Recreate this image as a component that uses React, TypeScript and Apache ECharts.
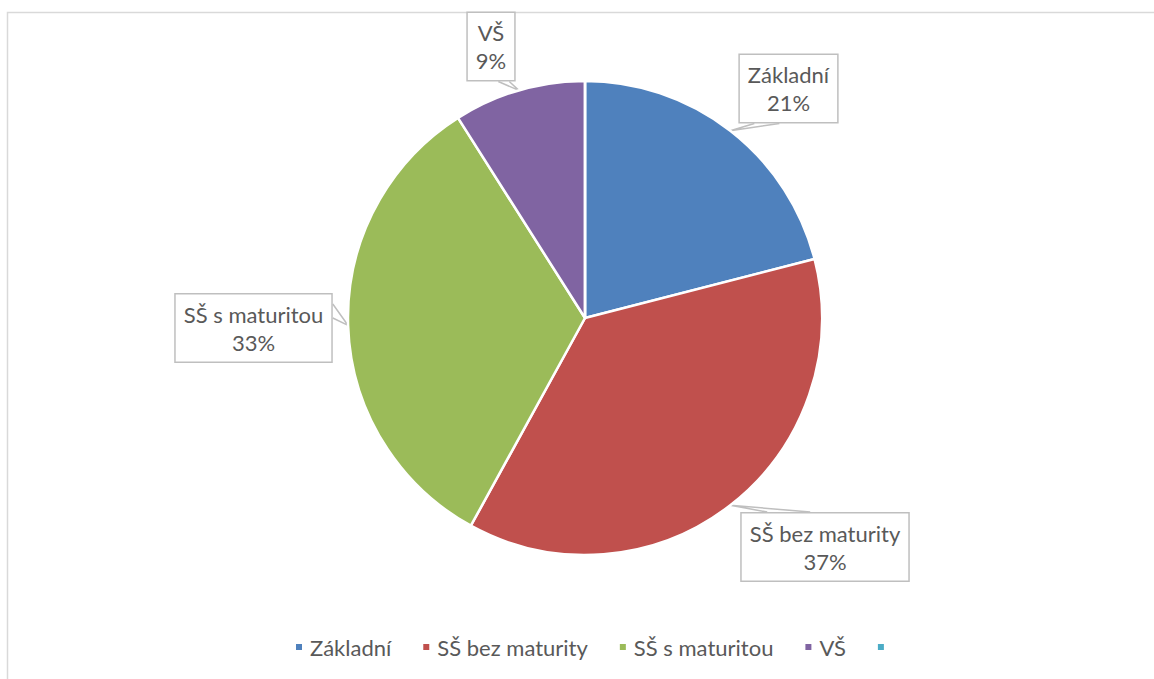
import React, { useEffect, useRef } from "react";
import * as echarts from "echarts";

const categories = ["Základní", "SŠ bez maturity", "SŠ s maturitou", "VŠ", " "];
const values = [21, 37, 33, 9, 0];
const colors = ["#4f81bd", "#c0504d", "#9bbb59", "#8064a2", "#4bacc6"];
// label box centres (layout only)
const labelCenters: [number, number][] = [
  [788.5, 88.5],
  [825, 547],
  [253.5, 328],
  [491, 46.5],
  [0, 0],
];
// callout wedge: side of the box and the two offsets along that side
const wedges: { side: string; a: number; b: number }[] = [
  { side: "bottom", a: 16, b: 41 },
  { side: "top", a: 27, b: 70 },
  { side: "right", a: 11, b: 25 },
  { side: "bottom", a: 32, b: 43 },
  { side: "bottom", a: 0, b: 0 },
];

export default function App() {
  const ref = useRef<HTMLDivElement>(null);
  useEffect(() => {
    const chart = echarts.init(ref.current!, undefined, { renderer: "svg" });
    const font = "Lato, 'Open Sans', sans-serif";
    chart.setOption({
      animation: false,
      backgroundColor: "#ffffff",
      color: colors,
      graphic: [
        {
          type: "rect",
          shape: { x: 7.5, y: 12.5, width: 1155, height: 690 },
          style: { fill: "none", stroke: "#d9d9d9", lineWidth: 1.5 },
          silent: true,
        },
      ],
      legend: {
        data: categories,
        top: 631,
        left: 289,
        icon: "rect",
        itemWidth: 8,
        itemHeight: 8,
        itemGap: 30,
        textStyle: {
          color: "#595959",
          fontSize: 22,
          fontFamily: font,
          padding: [0, 0, 0, 2],
        },
        selectedMode: false,
      },
      series: [
        {
          type: "pie",
          center: [585, 318],
          radius: 237,
          startAngle: 90,
          clockwise: true,
          itemStyle: { borderColor: "#ffffff", borderWidth: 2.5 },
          label: {
            show: true,
            formatter: "{b}\n{d}%",
            color: "#595959",
            fontSize: 22,
            fontFamily: font,
            lineHeight: 28,
            align: "center",
            backgroundColor: "#ffffff",
            borderColor: "#bfbfbf",
            borderWidth: 1.5,
            padding: [6, 8, 5, 8],
          },
          labelLine: {
            show: true,
            length: 10,
            length2: 10,
            lineStyle: { color: "#bfbfbf", width: 1.5 },
          },
          labelLayout: (p: any) => {
            const i = p.dataIndex;
            const c = labelCenters[i];
            const r = p.labelRect;
            const w = r.width;
            const h = r.height;
            const x0 = c[0] - w / 2;
            const y0 = c[1] - h / 2;
            const anchor = p.labelLinePoints ? p.labelLinePoints[0] : [c[0], c[1]];
            const wd = wedges[i];
            let A: number[], B: number[];
            if (wd.side === "bottom") {
              A = [x0 + wd.a, y0 + h];
              B = [x0 + wd.b, y0 + h];
            } else if (wd.side === "top") {
              A = [x0 + wd.a, y0];
              B = [x0 + wd.b, y0];
            } else {
              A = [x0 + w, y0 + wd.a];
              B = [x0 + w, y0 + wd.b];
            }
            return {
              x: c[0],
              y: c[1],
              align: "center",
              verticalAlign: "middle",
              labelLinePoints: [A, anchor, B],
            };
          },
          data: categories.map((n, i) =>
            i === 4
              ? { name: n, value: values[i], label: { show: false }, labelLine: { show: false } }
              : { name: n, value: values[i] }
          ),
        },
      ],
    });
    return () => chart.dispose();
  }, []);
  return (
    <div
      ref={ref}
      style={{ position: "fixed", left: 0, top: 0, width: 1154, height: 679 }}
    />
  );
}
